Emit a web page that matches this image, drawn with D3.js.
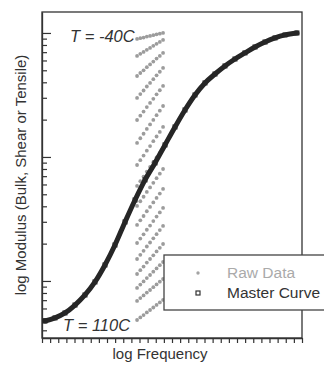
<!DOCTYPE html>
<html><head><meta charset="utf-8">
<script src="https://cdn.jsdelivr.net/npm/d3@7"></script>
<style>body{margin:0;background:#fff}svg{display:block}</style>
</head><body><svg id="c" width="324" height="367"></svg>
<script>
// ---------- data (x in log-frequency units, y as log10 modulus) ----------
const masterX = [0.37,1.6,2.83,4.06,5.29,6.52,7.75,8.98,10.22,11.45,12.68,13.91,15.14,16.37,17.6,18.83,20.06,21.29,22.52,23.75,24.98,26.22,27.45,28.68,29.91,31.38];
const masterLogM = [0.677,0.702,0.742,0.806,0.887,0.992,1.129,1.290,1.476,1.653,1.815,1.952,2.097,2.242,2.379,2.5,2.597,2.669,2.734,2.79,2.839,2.887,2.927,2.96,2.984,3.0];

const rawX = [11.7,12.1,12.5,12.9,13.3,13.7,14.1,14.5,14.9];
const rawLogM = [
 [2.952,2.958,2.963,2.971,2.976,2.982,2.989,2.994,3.000],
 [2.815,2.832,2.847,2.864,2.879,2.896,2.912,2.928,2.944],
 [2.653,2.677,2.699,2.724,2.746,2.769,2.793,2.815,2.839],
 [2.476,2.507,2.536,2.568,2.597,2.627,2.658,2.687,2.718],
 [2.298,2.333,2.366,2.402,2.436,2.469,2.505,2.538,2.573],
 [2.113,2.151,2.187,2.226,2.262,2.299,2.337,2.373,2.411],
 [1.935,1.974,2.011,2.051,2.088,2.127,2.165,2.202,2.242],
 [1.766,1.805,1.842,1.882,1.919,1.958,1.996,2.033,2.073],
 [1.605,1.643,1.679,1.718,1.754,1.791,1.829,1.865,1.903],
 [1.452,1.489,1.524,1.562,1.597,1.633,1.670,1.705,1.742],
 [1.306,1.342,1.376,1.413,1.447,1.483,1.519,1.553,1.589],
 [1.177,1.211,1.243,1.278,1.310,1.344,1.377,1.410,1.444],
 [1.056,1.087,1.116,1.148,1.177,1.207,1.238,1.267,1.298],
 [0.944,0.971,0.996,1.023,1.048,1.075,1.101,1.127,1.153],
 [0.839,0.862,0.883,0.906,0.927,0.950,0.972,0.994,1.016],
 [0.685,0.706,0.725,0.746,0.766,0.786,0.807,0.827,0.847]
];
const xTickValues = d3.range(0, 33);
const tempLabels = ["T = -40C", "T = 110C"];
const legendLabels = ["Raw Data", "Master Curve"];
const xTitle = "log Frequency";
const yTitle = "log Modulus (Bulk, Shear or Tensile)";

// ---------- layout ----------
const L = 42, R = 302, T = 12, B = 338;
const svg = d3.select("#c");
const x = d3.scaleLinear().domain([0, 32]).range([L, R]);
const y = d3.scaleLog().domain([Math.pow(10, 0.54), Math.pow(10, 3.169)]).range([B, T]);
const font = "Arial, 'Liberation Sans', sans-serif";

// frame
svg.append("rect").attr("x", L).attr("y", T).attr("width", R - L).attr("height", B - T)
  .attr("fill", "none").attr("stroke", "#333").attr("stroke-width", 1.3);

// x axis (ticks outside)
const gx = svg.append("g").attr("transform", `translate(0,${B})`)
  .call(d3.axisBottom(x).tickValues(xTickValues).tickSize(5).tickSizeOuter(0).tickFormat(""));
gx.select(".domain").attr("stroke", "#333").attr("stroke-width", 1.3);
gx.selectAll(".tick line").attr("stroke", "#333").attr("stroke-width", 1.2);

// y axis (ticks inside)
const yt = y.ticks();
const gy = svg.append("g").attr("transform", `translate(${L},0)`)
  .call(d3.axisRight(y).tickValues(yt).tickSize(5).tickSizeOuter(0).tickFormat(""));
gy.select(".domain").attr("stroke", "#333").attr("stroke-width", 1.3);
gy.selectAll(".tick line").attr("stroke", "#333").attr("stroke-width", 1.2)
  .attr("x2", d => Math.abs(Math.log10(d) - Math.round(Math.log10(d))) < 1e-6 ? 9 : 5);

// raw data
const rawPts = [];
rawLogM.forEach(row => row.forEach((v, i) => rawPts.push([rawX[i], Math.pow(10, v)])));
svg.append("g").selectAll("circle").data(rawPts).join("circle")
  .attr("cx", d => x(d[0])).attr("cy", d => y(d[1])).attr("r", 1.9)
  .attr("fill", "#9c9c9c");

// master curve
const mPts = masterX.map((v, i) => [v, Math.pow(10, masterLogM[i])]);
svg.append("path").datum(mPts)
  .attr("d", d3.line().x(d => x(d[0])).y(d => y(d[1])).curve(d3.curveMonotoneX))
  .attr("fill", "none").attr("stroke", "#262626").attr("stroke-width", 5).attr("stroke-linecap", "round");
svg.append("g").selectAll("rect").data(mPts).join("rect")
  .attr("x", d => x(d[0]) - 2.5).attr("y", d => y(d[1]) - 2.5).attr("width", 5).attr("height", 5)
  .attr("fill", "#262626");

// temperature labels
svg.append("text").attr("x", 70).attr("y", 41.5).text(tempLabels[0])
  .attr("font-family", font).attr("font-style", "italic").attr("font-size", 16.5).attr("fill", "#333");
svg.append("text").attr("x", 63).attr("y", 331).text(tempLabels[1])
  .attr("font-family", font).attr("font-style", "italic").attr("font-size", 16.5).attr("fill", "#333");

// legend
const lg = svg.append("g");
lg.append("rect").attr("x", 164).attr("y", 255).attr("width", 170).attr("height", 55)
  .attr("fill", "#fff").attr("stroke", "#444").attr("stroke-width", 1.3);
lg.append("circle").attr("cx", 198).attr("cy", 273).attr("r", 1.7).attr("fill", "#a3a3a3");
lg.append("rect").attr("x", 196).attr("y", 291).attr("width", 4).attr("height", 4)
  .attr("fill", "#fff").attr("stroke", "#333").attr("stroke-width", 1.2);
lg.append("text").attr("x", 227).attr("y", 278).text(legendLabels[0])
  .attr("font-family", font).attr("font-size", 15.5).attr("fill", "#aaa");
lg.append("text").attr("x", 227).attr("y", 298).text(legendLabels[1])
  .attr("font-family", font).attr("font-size", 15.5).attr("fill", "#333");

// axis titles
svg.append("text").attr("x", 160).attr("y", 359).attr("text-anchor", "middle").text(xTitle)
  .attr("font-family", font).attr("font-size", 15).attr("fill", "#333");
svg.append("text").attr("transform", "translate(26,175) rotate(-90)").attr("text-anchor", "middle").text(yTitle)
  .attr("font-family", font).attr("font-size", 15).attr("fill", "#333");
</script></body></html>
